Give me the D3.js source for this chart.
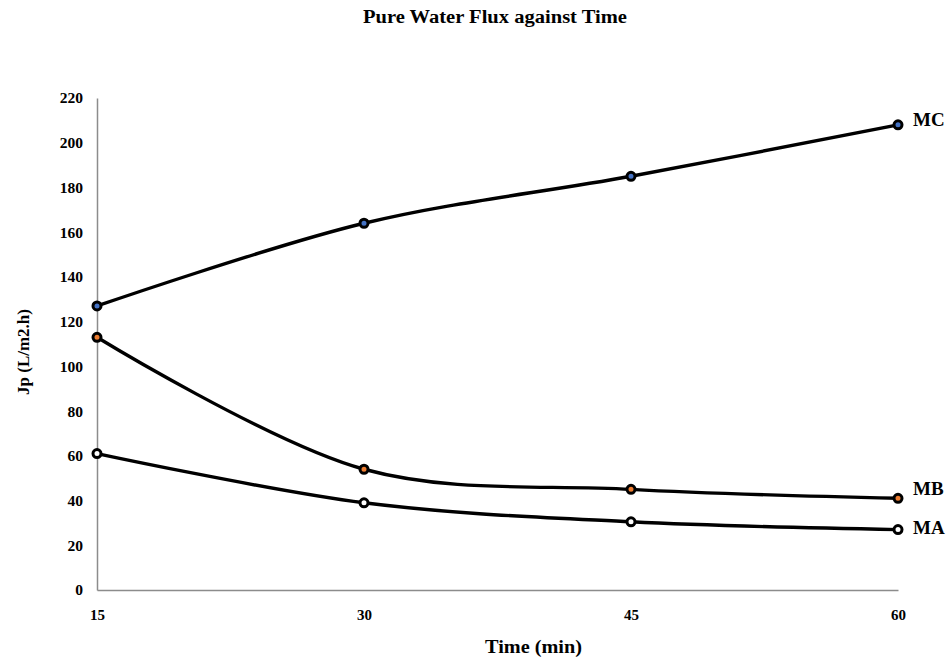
<!DOCTYPE html>
<html><head><meta charset="utf-8">
<script src="https://cdn.jsdelivr.net/npm/d3@7"></script>
<style>body{margin:0;background:#fff}svg{display:block}text{font-family:"Liberation Serif","Times New Roman",serif;font-weight:bold;fill:#000}</style>
</head><body>
<svg id="c" width="950" height="660"></svg>
<script>
const times = [15, 30, 45, 60];
const yTicks = [0, 20, 40, 60, 80, 100, 120, 140, 160, 180, 200, 220];
const seriesNames = ["MA", "MB", "MC"];
const valuesMA = [61, 39, 30.5, 27];
const valuesMB = [113, 54, 45, 41];
const valuesMC = [127, 164, 185, 208];
const markerFill = ["#ffffff", "#ED7D31", "#4472C4"];
const labelDy = [4, -3, 1];
const series = [valuesMA, valuesMB, valuesMC];

const svg = d3.select("#c");
const m = {l: 97, r: 898, t: 98, b: 590};
const x = d3.scalePoint().domain(times).range([m.l, m.r]);
const y = d3.scaleLinear().domain([0, 220]).range([m.b, m.t]);

svg.append("text").attr("x", 363).attr("y", 23)
  .attr("textLength", 264).attr("lengthAdjust", "spacingAndGlyphs")
  .style("font-size", "18px").text("Pure Water Flux against Time");

// axes
const ya = svg.append("g").attr("transform", `translate(${m.l},0)`)
  .call(d3.axisLeft(y).tickValues(yTicks).tickSize(0).tickPadding(14));
ya.select(".domain").attr("stroke", "#8c8c8c").attr("stroke-width", 1.5);
ya.selectAll("text").style("font-size", "15.5px").style("font-family", "Liberation Serif").style("font-weight", "bold");

const xa = svg.append("g").attr("transform", `translate(0,${m.b})`)
  .call(d3.axisBottom(x).tickSize(0).tickPadding(19));
xa.select(".domain").attr("stroke", "#8c8c8c").attr("stroke-width", 1.5);
xa.selectAll("text").style("font-size", "15px").style("font-family", "Liberation Serif").style("font-weight", "bold");

svg.append("text").attr("transform", "translate(29,352) rotate(-90)").attr("text-anchor", "middle")
  .style("font-size", "17px").text("Jp (L/m2.h)");
svg.append("text").attr("x", 485).attr("y", 653)
  .attr("textLength", 97).attr("lengthAdjust", "spacingAndGlyphs")
  .style("font-size", "19px").text("Time (min)");

const line = d3.line().x((d, i) => x(times[i])).y(d => y(d)).curve(d3.curveCatmullRom.alpha(0.5));

series.forEach((vals, si) => {
  svg.append("path").datum(vals).attr("d", line).attr("fill", "none")
    .attr("stroke", "#000").attr("stroke-width", 3.4);
});
series.forEach((vals, si) => {
  svg.selectAll(null).data(vals).enter().append("circle")
    .attr("cx", (d, i) => x(times[i])).attr("cy", d => y(d)).attr("r", 4)
    .attr("fill", markerFill[si]).attr("stroke", "#000").attr("stroke-width", 3);
  svg.append("text").attr("x", x(times[3]) + 15).attr("y", y(vals[3]) + labelDy[si])
    .style("font-size", "19px").text(seriesNames[si]);
});
</script>
</body></html>
